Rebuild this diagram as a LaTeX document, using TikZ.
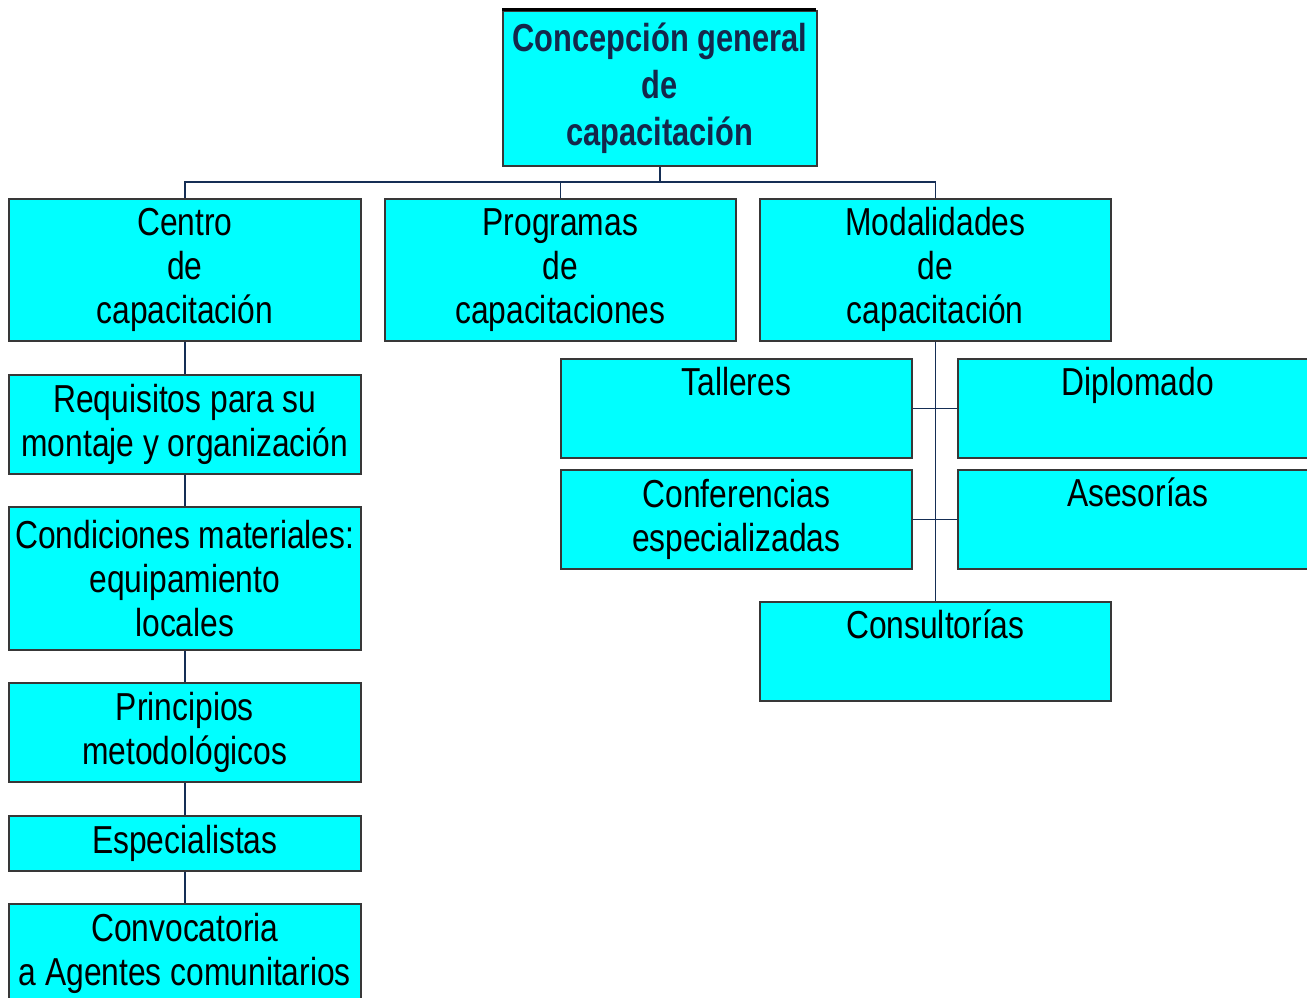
\documentclass[tikz,border=0pt]{standalone}
\usepackage{fontspec}
\setmainfont{Liberation Sans}[FakeStretch=0.815]
\newfontfamily\narrowbold{Liberation Sans}[FakeStretch=0.79]
\definecolor{boxfill}{HTML}{00FFFF}
\definecolor{boxline}{HTML}{383838}
\definecolor{connc}{HTML}{152E55}
\definecolor{toptext}{HTML}{14284B}
\tikzset{
  box/.style={draw=boxline, fill=boxfill, line width=1.6pt, inner sep=0pt, anchor=north west, align=center,
    font=\fontsize{39}{44}\selectfont},
  conn/.style={draw=connc, line width=1.6pt},
}
\begin{document}
\begin{tikzpicture}[x=1pt,y=-1pt]
\useasboundingbox (0,0) rectangle (1307,998);
\clip (0,0) rectangle (1307,998);
% top
\node[box, minimum width=314pt, minimum height=155pt, font=\narrowbold\bfseries\fontsize{39}{47}\selectfont, text=toptext] (top) at (502,10) {Concepción general\\de\\capacitación};
\draw[black, line width=3pt] (502,10) -- (816,10);
% level 2
\node[box, minimum width=352pt, minimum height=142pt] (centro) at (8,198) {Centro\\de\\capacitación};
\node[box, minimum width=351pt, minimum height=142pt] (programas) at (384,198) {Programas\\de\\capacitaciones};
\node[box, minimum width=351pt, minimum height=142pt] (modal) at (759,198) {Modalidades\\de\\capacitación};
% left column
\node[box, minimum width=352pt, minimum height=99pt] (req) at (8,374) {Requisitos para su\\montaje y organización};
\node[box, minimum width=352pt, minimum height=143pt] (cond) at (8,506) {Condiciones materiales:\\equipamiento\\locales};
\node[box, minimum width=352pt, minimum height=99pt] (princ) at (8,682) {Principios\\metodológicos};
\node[box, minimum width=352pt, minimum height=55pt] (espec) at (8,815) {Especialistas};
\node[box, minimum width=352pt, minimum height=100pt] (convoc) at (8,903) {Convocatoria\\a Agentes comunitarios};
% right group
\node[box, minimum width=351pt, minimum height=99pt] (talleres) at (560,358) {\raisebox{-3pt}{Talleres}\\\strut};
\node[box, minimum width=360pt, minimum height=99pt] (diplo) at (957,358) {\raisebox{-3pt}{Diplomado}\\\strut};
\node[box, minimum width=351pt, minimum height=99pt] (confer) at (560,469) {Conferencias\\especializadas};
\node[box, minimum width=360pt, minimum height=99pt] (ases) at (957,469) {\raisebox{-3pt}{Asesorías}\\\strut};
\node[box, minimum width=351pt, minimum height=99pt] (consul) at (759,601) {\raisebox{-3pt}{Consultorías}\\\strut};
% connectors
\coordinate (bus) at (183,182);
\draw[conn] (top.south) -- (top.south |- bus);
\draw[conn] (centro.north) |- (modal.north |- bus) -- (modal.north);
\draw[conn] (programas.north) -- (programas.north |- bus);
\draw[conn] (centro.south) -- (req.north);
\draw[conn] (req.south) -- (cond.north);
\draw[conn] (cond.south) -- (princ.north);
\draw[conn] (princ.south) -- (espec.north);
\draw[conn] (espec.south) -- (convoc.north);
\draw[conn] (modal.south) -- (consul.north);
\draw[conn] (talleres.east) -- (talleres.east -| diplo.west);
\draw[conn] (confer.east) -- (confer.east -| ases.west);
\end{tikzpicture}
\end{document}
